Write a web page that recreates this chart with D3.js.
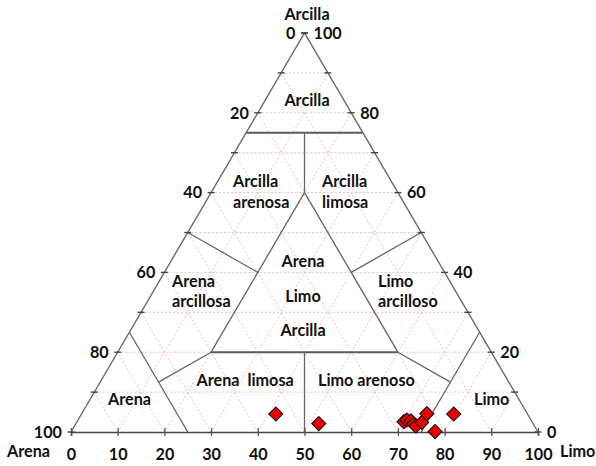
<!DOCTYPE html>
<html>
<head>
<meta charset="utf-8">
<script src="https://cdn.jsdelivr.net/npm/d3@7"></script>
<style>
  html, body { margin: 0; padding: 0; background: #fff; }
  svg text { font-family: Lato, "Open Sans", sans-serif; font-weight: bold; fill: #111; }
</style>
</head>
<body>
<svg id="chart" width="596" height="466"></svg>
<script>
// Percent levels used for grid, ticks and labels
const gridLevels = [10, 20, 30, 40, 50, 60, 70, 80, 90];
const tickLevels = [0, 10, 20, 30, 40, 50, 60, 70, 80, 90, 100];
const bottomTickLabels = [0, 10, 20, 30, 40, 50, 60, 70, 80, 90, 100]; // Limo
const sideTickLabels = [0, 20, 40, 60, 80, 100];

// Texture class boundaries, as [sand, silt, clay] end points
const boundaries = [
  [[25, 0, 75], [0, 25, 75]],
  [[12.5, 12.5, 75], [20, 20, 60]],
  [[20, 20, 60], [40, 20, 40]],
  [[40, 20, 40], [60, 20, 20]],
  [[20, 20, 60], [20, 40, 40]],
  [[20, 40, 40], [20, 60, 20]],
  [[50, 0, 50], [40, 20, 40]],
  [[0, 50, 50], [20, 40, 40]],
  [[60, 20, 20], [20, 60, 20]],
  [[40, 40, 20], [50, 50, 0]],
  [[75, 0, 25], [75, 25, 0]],
  [[60, 20, 20], [75, 12.5, 12.5]],
  [[0, 75, 25], [25, 75, 0]],
  [[20, 60, 20], [12.5, 75, 12.5]]
];
const thickBoundaries = [0, 8];

// Samples: silt (%) and clay (%)
const sampleSilt = [41.6, 52.0, 70.0, 70.4, 71.4, 72.4, 73.1, 73.9, 73.9, 77.9, 79.7];
const sampleClay = [4.5, 2.1, 2.6, 3.0, 2.8, 2.0, 1.5, 2.4, 4.6, 0.1, 4.5];

// Class names (line by line)
const classNames = [
  ["Arcilla"],
  ["Arcilla", "arenosa"],
  ["Arcilla", "limosa"],
  ["Arena", "Limo", "Arcilla"],
  ["Arena", "arcillosa"],
  ["Limo", "arcilloso"],
  ["Arena\u00a0 limosa"],
  ["Limo arenoso"],
  ["Arena"],
  ["Limo"]
];

const svg = d3.select("#chart");

// Horizontal position of a point = silt + clay/2, vertical = clay
const x = d3.scaleLinear().domain([0, 100]).range([71, 538]);
const y = d3.scaleLinear().domain([0, 100]).range([432, 33]);
const pt = (sand, silt, clay) => [x(silt + clay / 2), y(clay)];

// Label layout (pixels)
const classLayout = [
  { x: 307, y: 106, anchor: "middle", dy: 0 },
  { x: 233, y: 186.5, anchor: "start", dy: 21.6 },
  { x: 322, y: 186.5, anchor: "start", dy: 21.6 },
  { x: 303, y: 267.3, anchor: "middle", dy: 34.3 },
  { x: 172, y: 286.7, anchor: "start", dy: 20.6 },
  { x: 378, y: 286.7, anchor: "start", dy: 20.6 },
  { x: 196.5, y: 385.7, anchor: "start", dy: 0 },
  { x: 318, y: 385.7, anchor: "start", dy: 0 },
  { x: 108, y: 405, anchor: "start", dy: 0 },
  { x: 474, y: 405, anchor: "start", dy: 0 }
];

const FS = 16.2;
const line = d3.line();

// Pink dotted grid
const grid = svg.append("g")
  .attr("fill", "none")
  .attr("stroke", "#eebdbd")
  .attr("stroke-width", 1)
  .attr("stroke-dasharray", "2,2");
gridLevels.forEach(k => {
  grid.append("path").attr("d", line([pt(100 - k, 0, k), pt(0, 100 - k, k)]));
  grid.append("path").attr("d", line([pt(100 - k, k, 0), pt(0, k, 100 - k)]));
  grid.append("path").attr("d", line([pt(k, 100 - k, 0), pt(k, 0, 100 - k)]));
});

// Class boundaries
svg.append("g")
  .attr("fill", "none")
  .selectAll("path")
  .data(boundaries)
  .join("path")
  .attr("stroke", (d, i) => thickBoundaries.includes(i) ? "#5a5a5a" : "#666")
  .attr("stroke-width", (d, i) => thickBoundaries.includes(i) ? 2 : 1.3)
  .attr("d", d => line(d.map(p => pt(...p))));

// Triangle outline
svg.append("path")
  .attr("fill", "none")
  .attr("stroke", "#6a6a6a")
  .attr("stroke-width", 1.4)
  .attr("d", line([pt(100, 0, 0), pt(0, 0, 100), pt(0, 100, 0)]));

// Bottom axis (Limo)
const axisB = svg.append("g")
  .attr("transform", `translate(0,${y(0)})`)
  .call(d3.axisBottom(x).tickValues(bottomTickLabels).tickSize(4).tickPadding(12));
axisB.select(".domain").attr("stroke", "#444").attr("stroke-width", 1.5);
axisB.selectAll(".tick line").attr("y1", -4).attr("stroke", "#555").attr("stroke-width", 1.3);
axisB.selectAll(".tick text")
  .attr("font-family", "Lato, 'Open Sans', sans-serif")
  .attr("font-weight", "bold")
  .attr("font-size", FS)
  .attr("fill", "#111");

// Side ticks
const ticks = svg.append("g").attr("stroke", "#444").attr("stroke-width", 1.4);
tickLevels.forEach(c => {
  const [lx, ly] = pt(100 - c, 0, c);
  const [rx, ry] = pt(0, 100 - c, c);
  ticks.append("line").attr("x1", lx - 3.5).attr("x2", lx + 3.5).attr("y1", ly).attr("y2", ly);
  ticks.append("line").attr("x1", rx - 3.5).attr("x2", rx + 3.5).attr("y1", ry).attr("y2", ry);
});

// Side tick labels: left = Arena, right = Arcilla
const sideLabels = svg.append("g").attr("font-size", FS);
sideTickLabels.forEach(v => {
  const [lx, ly] = pt(v, 0, 100 - v);
  sideLabels.append("text")
    .attr("x", lx - 9).attr("y", ly).attr("dy", "0.36em")
    .attr("text-anchor", "end").text(v);
  const [rx, ry] = pt(0, 100 - v, v);
  sideLabels.append("text")
    .attr("x", rx + 9).attr("y", ry).attr("dy", "0.36em")
    .attr("text-anchor", "start").text(v);
});

// Axis titles
const titles = svg.append("g").attr("font-size", FS);
titles.append("text").attr("x", 307).attr("y", 20).attr("text-anchor", "middle").text("Arcilla");
titles.append("text").attr("x", 7).attr("y", 457).text("Arena");
titles.append("text").attr("x", 560).attr("y", 456.5).text("Limo");

// Class names
const names = svg.append("g").attr("font-size", FS);
classNames.forEach((lines, i) => {
  const l = classLayout[i];
  lines.forEach((t, j) => {
    names.append("text")
      .attr("x", l.x).attr("y", l.y + j * l.dy)
      .attr("text-anchor", l.anchor)
      .text(t);
  });
});

// Samples
const diamond = d3.symbol().type(d3.symbolSquare).size(100);
svg.append("g")
  .selectAll("path")
  .data(sampleSilt.map((s, i) => ({ silt: s, clay: sampleClay[i] })))
  .join("path")
  .attr("d", diamond)
  .attr("transform", d => {
    const [px, py] = pt(100 - d.silt - d.clay, d.silt, d.clay);
    return `translate(${px},${py}) rotate(45)`;
  })
  .attr("fill", "#e80000")
  .attr("stroke", "#111")
  .attr("stroke-width", 1);
</script>
</body>
</html>
